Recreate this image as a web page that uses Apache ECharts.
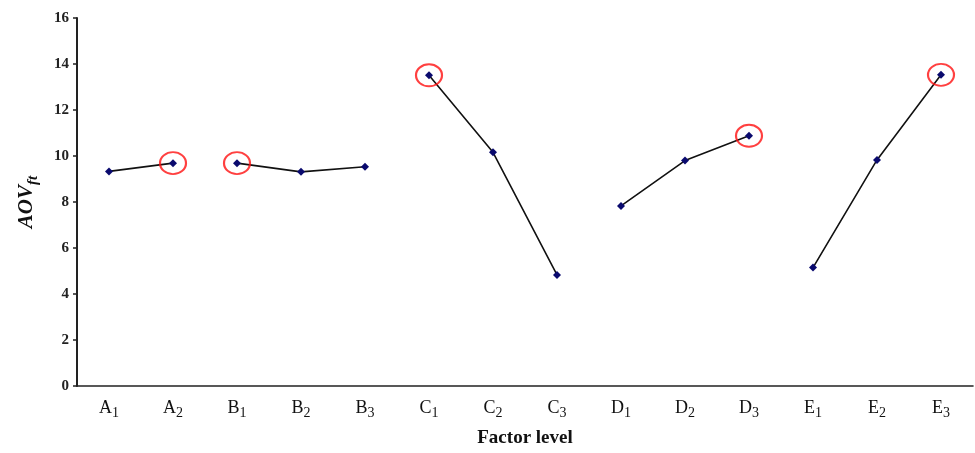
<!DOCTYPE html>
<html>
<head>
<meta charset="utf-8">
<script src="https://cdn.jsdelivr.net/npm/echarts@6/dist/echarts.min.js"></script>
<style>html,body{margin:0;padding:0;background:#fff;}#c{width:975px;height:453px;}</style>
</head>
<body>
<div id="c"></div>
<script>
const factors = ['A','A','B','B','B','C','C','C','D','D','D','E','E','E'];
const levels  = ['1','2','1','2','3','1','2','3','1','2','3','1','2','3'];
const values  = [9.33, 9.69, 9.69, 9.31, 9.53, 13.51, 10.16, 4.83, 7.83, 9.80, 10.88, 5.15, 9.83, 13.53];
const optimal = ['A2','B1','C1','D3','E3'];
const yTicks  = [0, 2, 4, 6, 8, 10, 12, 14, 16];

const categories = factors.map((f, i) => f + levels[i]);
const groups = [...new Set(factors)];

const lineSeries = groups.map(g => ({
  type: 'line',
  name: g,
  data: values.map((v, i) => factors[i] === g ? v : '-'),
  symbol: 'diamond',
  symbolSize: 8,
  itemStyle: { color: '#0a0a6e' },
  lineStyle: { color: '#111', width: 1.6 },
  connectNulls: false,
  animation: false,
  z: 3
}));

const circleSeries = {
  type: 'scatter',
  data: categories.map((c, i) => optimal.includes(c) ? values[i] : '-'),
  symbol: 'circle',
  symbolSize: [26, 22],
  itemStyle: { color: 'rgba(0,0,0,0)', borderColor: '#ff1010', borderWidth: 2 },
  animation: false,
  z: 4
};

const chart = echarts.init(document.getElementById('c'));
chart.setOption({
  backgroundColor: '#fff',
  grid: { left: 77, right: 2, top: 18, bottom: 64 },
  xAxis: {
    type: 'category',
    data: categories,
    boundaryGap: true,
    axisLine: { lineStyle: { color: '#222', width: 1.6 } },
    axisTick: { show: false },
    axisLabel: {
      interval: 0,
      margin: 13,
      formatter: function (v) { return '{m|' + v.charAt(0) + '}{s|' + v.slice(1) + '}'; },
      rich: {
        m: { fontFamily: 'Liberation Serif', fontSize: 18, color: '#111', verticalAlign: 'bottom' },
        s: { fontFamily: 'Liberation Serif', fontSize: 14, color: '#111', verticalAlign: 'bottom', padding: [0, 0, -3, 0] }
      }
    },
    name: 'Factor level',
    nameLocation: 'middle',
    nameGap: 43,
    nameTextStyle: { fontFamily: 'Liberation Serif', fontSize: 19, fontWeight: 'bold', color: '#111' }
  },
  yAxis: {
    type: 'value',
    min: yTicks[0],
    max: yTicks[yTicks.length - 1],
    interval: 2,
    axisLine: { show: true, lineStyle: { color: '#222', width: 2 } },
    axisTick: { show: true, length: 4, lineStyle: { color: '#222', width: 1.5 } },
    splitLine: { show: false },
    axisLabel: { margin: 8, fontFamily: 'Liberation Serif', fontSize: 15, fontWeight: 'bold', color: '#222' },
    name: '{a|AOV}{b|ft}',
    nameLocation: 'middle',
    nameRotate: 90,
    nameGap: 40,
    nameTextStyle: {
      rich: {
        a: { fontFamily: 'Liberation Serif', fontSize: 21, fontWeight: 'bold', fontStyle: 'italic', color: '#111', verticalAlign: 'bottom' },
        b: { fontFamily: 'Liberation Serif', fontSize: 15, fontWeight: 'bold', fontStyle: 'italic', color: '#111', verticalAlign: 'bottom', padding: [0, 0, -4, 0] }
      }
    }
  },
  series: lineSeries.concat([circleSeries])
});
</script>
</body>
</html>
